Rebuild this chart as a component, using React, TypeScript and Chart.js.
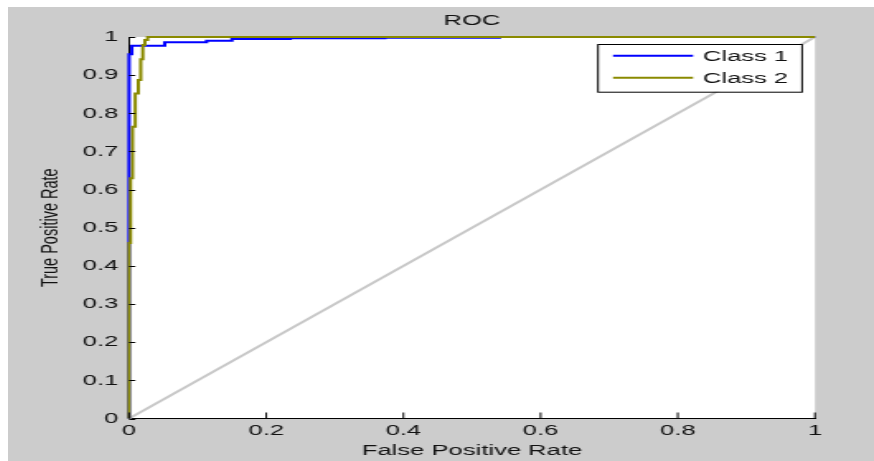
import React, { useEffect, useRef } from "react";
import { Chart, registerables } from "chart.js";

Chart.register(...registerables);

// ---- data ----
const class1Fpr = [0, 0, 0.004, 0.004, 0.052, 0.052, 0.113, 0.113, 0.15, 0.15, 0.235, 0.235, 0.373, 0.373, 0.54, 0.54, 1];
const class1Tpr = [0, 0.955, 0.955, 0.977, 0.977, 0.986, 0.986, 0.99, 0.99, 0.995, 0.995, 0.997, 0.997, 0.998, 0.998, 1, 1];

const class2Fpr = [0, 0, 0.002, 0.002, 0.005, 0.005, 0.009, 0.009, 0.0135, 0.0135, 0.017, 0.017, 0.02, 0.02, 0.023, 0.023, 0.027, 0.027, 1];
const class2Tpr = [0, 0.46, 0.46, 0.63, 0.63, 0.765, 0.765, 0.852, 0.852, 0.887, 0.887, 0.942, 0.942, 0.979, 0.979, 0.992, 0.992, 1, 1];

const chanceFpr = [0, 1];
const chanceTpr = [0, 1];

const xTickValues = [0, 0.2, 0.4, 0.6, 0.8, 1];
const yTickValues = [0, 0.1, 0.2, 0.3, 0.4, 0.5, 0.6, 0.7, 0.8, 0.9, 1];

const seriesLabels = ["Class 1", "Class 2"];
const titleText = "ROC";
const xTitle = "False Positive Rate";
const yTitle = "True Positive Rate";

// ---- styles ----
const BLUE = "#0000ff";
const OLIVE = "#8a8a00";
const GRAY_LINE = "#c8c8c8";
const FIG_BG = "#cccccc";
const TEXT = "#111111";
const FONT_FAMILY = "'Liberation Sans', Arial, sans-serif";

const STRETCH = 1.6495; // the reference is horizontally stretched
const CSS_W = 866;
const CSS_H = 454;
const INNER_W = Math.round(CSS_W / STRETCH);

const toPoints = (xs: number[], ys: number[]) => xs.map((x, i) => ({ x, y: ys[i] }));
const fmtTick = (v: any) => String(Math.round(Number(v) * 100) / 100);

const decorPlugin = {
  id: "decor",
  beforeDraw(chart: any) {
    const { ctx, chartArea } = chart;
    ctx.save();
    ctx.fillStyle = FIG_BG;
    ctx.fillRect(0, 0, chart.width, chart.height);
    ctx.fillStyle = "#ffffff";
    ctx.fillRect(chartArea.left, chartArea.top, chartArea.right - chartArea.left, chartArea.bottom - chartArea.top);
    ctx.restore();
  },
  afterDraw(chart: any) {
    const { ctx, chartArea, scales } = chart;
    ctx.save();
    // inward ticks
    ctx.strokeStyle = "#000";
    ctx.lineWidth = 1;
    ctx.beginPath();
    for (const v of xTickValues) {
      const px = scales.x.getPixelForValue(v);
      ctx.moveTo(px, chartArea.bottom);
      ctx.lineTo(px, chartArea.bottom - 6);
    }
    for (const v of yTickValues) {
      const py = Math.round(scales.y.getPixelForValue(v)) + 0.5;
      ctx.moveTo(chartArea.left, py);
      ctx.lineTo(chartArea.left + 3.8, py);
    }
    ctx.stroke();

    // legend box (inside plot, top-right)
    const boxRight = chartArea.right - 7.8;
    const boxLeft = boxRight - 123.7;
    const boxTop = chartArea.top + 7;
    const boxH = 47.7;
    ctx.fillStyle = "#ffffff";
    ctx.fillRect(boxLeft, boxTop, boxRight - boxLeft, boxH);
    ctx.strokeStyle = "#000";
    ctx.lineWidth = 1;
    ctx.strokeRect(boxLeft, boxTop + 0.5, boxRight - boxLeft, boxH);
    const colors = [BLUE, OLIVE];
    const rowY = [boxTop + 11.7, boxTop + 33.7];
    ctx.font = `15.5px ${FONT_FAMILY}`;
    ctx.textBaseline = "middle";
    ctx.textAlign = "left";
    seriesLabels.forEach((lab, i) => {
      ctx.strokeStyle = colors[i];
      ctx.lineWidth = 2;
      ctx.beginPath();
      ctx.moveTo(boxLeft + 9.1, rowY[i]);
      ctx.lineTo(boxLeft + 57.6, rowY[i]);
      ctx.stroke();
      ctx.fillStyle = TEXT;
      ctx.fillText(lab, boxLeft + 63.6, rowY[i] + 1);
    });
    ctx.restore();
  },
};

export default function App() {
  const canvasRef = useRef<HTMLCanvasElement | null>(null);

  useEffect(() => {
    const canvas = canvasRef.current;
    if (!canvas) return;
    const font = { family: FONT_FAMILY, size: 15.5 };
    const chart = new Chart(canvas, {
      type: "line",
      data: {
        datasets: [
          {
            label: "chance",
            data: toPoints(chanceFpr, chanceTpr),
            borderColor: GRAY_LINE,
            borderWidth: 2,
            pointRadius: 0,
            order: 3,
            clip: false,
          } as any,
          {
            label: seriesLabels[0],
            data: toPoints(class1Fpr, class1Tpr),
            borderColor: BLUE,
            borderWidth: 2,
            pointRadius: 0,
            order: 2,
            clip: false,
          },
          {
            label: seriesLabels[1],
            data: toPoints(class2Fpr, class2Tpr),
            borderColor: OLIVE,
            borderWidth: 2,
            pointRadius: 0,
            order: 1,
            clip: false,
          },
        ],
      },
      options: {
        responsive: false,
        animation: false,
        devicePixelRatio: 1,
        layout: { padding: { left: 0, right: INNER_W - 489.2, top: 0, bottom: 0 } },
        plugins: {
          legend: { display: false },
          tooltip: { enabled: false },
          title: {
            display: true,
            text: titleText,
            fullSize: false,
            color: TEXT,
            font: { family: FONT_FAMILY, size: 15.5, weight: "normal" },
            padding: { top: 4.2, bottom: 7.2 },
          },
        },
        scales: {
          x: {
            type: "linear",
            min: 0,
            max: 1,
            afterBuildTicks: (scale: any) => {
              scale.ticks = xTickValues.map((v) => ({ value: v }));
            },
            afterFit: (scale: any) => {
              scale.height = 42.5;
            },
            grid: { display: false, drawTicks: false },
            border: { display: true, color: "#000", width: 1 },
            ticks: { color: TEXT, font, padding: 3, maxRotation: 0, autoSkip: false, callback: fmtTick },
            title: { display: true, text: xTitle, color: TEXT, font, padding: { top: 0, bottom: 0.7 } },
          },
          y: {
            type: "linear",
            min: 0,
            max: 1,
            afterBuildTicks: (scale: any) => {
              scale.ticks = yTickValues.map((v) => ({ value: v }));
            },
            afterFit: (scale: any) => {
              scale.width = 73.4;
            },
            grid: { display: false, drawTicks: false },
            border: { display: true, color: "#000", width: 1 },
            ticks: { color: TEXT, font, padding: 6.5, autoSkip: false, callback: fmtTick },
            title: { display: true, text: yTitle, color: TEXT, font: { family: FONT_FAMILY, size: 14.5 }, padding: { top: 17.5, bottom: 0 } },
          },
        },
      },
      plugins: [decorPlugin],
    } as any);
    return () => chart.destroy();
  }, []);

  return (
    <div
      style={{
        position: "absolute",
        left: 8,
        top: 7,
        width: CSS_W,
        height: CSS_H,
        background: FIG_BG,
        overflow: "hidden",
      }}
    >
      <canvas
        ref={canvasRef}
        width={INNER_W}
        height={CSS_H}
        style={{ display: "block", transform: `scaleX(${STRETCH})`, transformOrigin: "0 0" }}
      />
    </div>
  );
}
